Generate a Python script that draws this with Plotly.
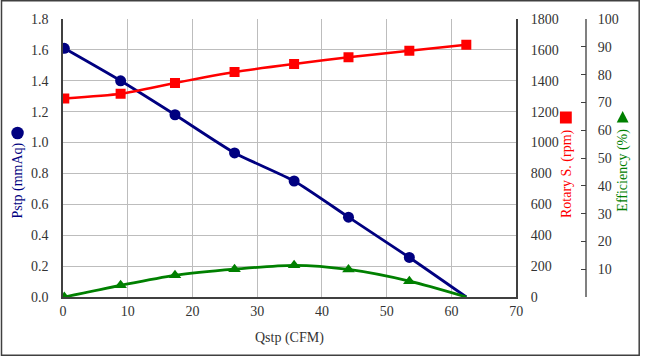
import plotly.graph_objects as go

# ---- data ----
qstp = [0.2, 8.9, 17.3, 26.5, 35.7, 44.1, 53.5, 62.3]
pstp = [1.61, 1.40, 1.18, 0.933, 0.751, 0.517, 0.256, 0.0]
rpm = [1286, 1316, 1386, 1457, 1509, 1552, 1595, 1634]
eff = [0.0, 4.2, 7.8, 10.0, 11.4, 9.9, 5.7, 0.0]

x_ticks = [0, 10, 20, 30, 40, 50, 60, 70]
eff_ticks = [10, 20, 30, 40, 50, 60, 70, 80, 90, 100]

W, H = 647, 356
L, R, T, B = 63, 5, 19, 59
PW = W - L - R
PH = H - T - B

def px(xp):
    return (xp - L) / PW

def py(yp):
    return 1 - (yp - T) / PH

NAVY = "#000080"
RED = "#FF0000"
GREEN = "#008000"
FONT = "Liberation Serif, Times New Roman, DejaVu Serif, serif"
TXT = "#333333"
GRID = "#BDBDBD"
AX = "#404040"

fig = go.Figure()
fig.add_trace(go.Scatter(
    x=qstp, y=pstp, yaxis="y", mode="lines+markers", line_shape="spline",
    line=dict(color=NAVY, width=2.8, smoothing=0.6),
    marker=dict(symbol="circle", size=[11] * 7 + [0], color=NAVY, opacity=1,
                line=dict(width=0)), showlegend=False))
fig.add_trace(go.Scatter(
    x=qstp, y=rpm, yaxis="y2", mode="lines+markers", line_shape="spline",
    line=dict(color=RED, width=2.5, smoothing=0.6),
    marker=dict(symbol="square", size=10, color=RED, opacity=1,
                line=dict(width=0)), showlegend=False))
fig.add_trace(go.Scatter(
    x=qstp, y=eff, yaxis="y3", mode="lines+markers", line_shape="spline",
    line=dict(color=GREEN, width=2.8, smoothing=0.8),
    marker=dict(symbol="triangle-up", size=[11] * 7 + [0], color=GREEN, opacity=1,
                line=dict(width=0)), showlegend=False))

dom_end = px(521.7)
tickfont = dict(family=FONT, size=14, color=TXT)

fig.update_layout(
    width=W, height=H,
    margin=dict(l=L, r=R, t=T, b=B),
    paper_bgcolor="white", plot_bgcolor="white",
    font=dict(family=FONT, color=TXT),
    xaxis=dict(domain=[0, dom_end], range=[0, 70], tickvals=x_ticks,
               showgrid=True, gridcolor=GRID, gridwidth=1, zeroline=False,
               showline=True, linecolor=AX, linewidth=1.5, mirror=False,
               ticks="", tickfont=tickfont),
    yaxis=dict(range=[0, 1.8], dtick=0.2, tickformat=".1f",
               showgrid=True, gridcolor=GRID, gridwidth=1, zeroline=False,
               showline=True, linecolor=AX, linewidth=1.5,
               ticks="outside", ticklen=5, tickcolor="rgba(0,0,0,0)",
               ticklabelstandoff=5, tickfont=tickfont),
    yaxis2=dict(range=[0, 1800], dtick=200, overlaying="y", anchor="x", side="right",
                showgrid=False, zeroline=False, showline=True, linecolor=AX, linewidth=1.5,
                ticks="", ticklabelstandoff=10, tickfont=tickfont),
    yaxis3=dict(range=[0, 100], tickvals=eff_ticks, overlaying="y", anchor="free",
                position=px(592.7), side="right",
                showgrid=False, zeroline=False, showline=True, linecolor="#808080", linewidth=1.5,
                ticks="inside", ticklen=5, tickcolor="#404040", ticklabelstandoff=8,
                tickfont=tickfont),
)

annots = [
    dict(text="Qstp (CFM)", x=px(292), y=py(338), font=dict(family=FONT, size=14, color=TXT), textangle=0),
    dict(text="Pstp (mmAq)", x=px(17), y=py(181), font=dict(family=FONT, size=14, color=NAVY), textangle=-90),
    dict(text="Rotary S. (rpm)", x=px(572.7), y=py(173.5), font=dict(family=FONT, size=14, color=RED), textangle=-90),
    dict(text="Efficiency (%)", x=px(629.5), y=py(170), font=dict(family=FONT, size=14, color=GREEN), textangle=-90),
]
for a in annots:
    fig.add_annotation(xref="paper", yref="paper", showarrow=False,
                       xanchor="center", yanchor="middle", **a)

shapes = []
# chart border
shapes.append(dict(type="rect", xref="paper", yref="paper",
                   x0=px(0.75), x1=px(W - 0.75), y0=py(H - 0.75), y1=py(0.75),
                   line=dict(color="#404040", width=1.5), fillcolor="rgba(0,0,0,0)", layer="below"))
# legend icons near axis titles
cx, cy, r = 17, 133, 6.3
shapes.append(dict(type="circle", xref="paper", yref="paper",
                   x0=px(cx - r), x1=px(cx + r), y0=py(cy + r), y1=py(cy - r),
                   fillcolor=NAVY, line=dict(width=0)))
sx, sy, s = 572, 117.5, 6
shapes.append(dict(type="rect", xref="paper", yref="paper",
                   x0=px(sx - s), x1=px(sx + s), y0=py(sy + s), y1=py(sy - s),
                   fillcolor=RED, line=dict(width=0)))
tx, ty = 629.5, 117
path = "M {} {} L {} {} L {} {} Z".format(px(tx - 6), py(ty + 5.5), px(tx + 6), py(ty + 5.5), px(tx), py(ty - 6))
shapes.append(dict(type="path", xref="paper", yref="paper", path=path,
                   fillcolor=GREEN, line=dict(width=0)))
fig.update_layout(shapes=shapes)

fig.write_html("out.html", config={"displayModeBar": False},
               post_script="document.body.style.margin='0';document.body.style.overflow='hidden';")
